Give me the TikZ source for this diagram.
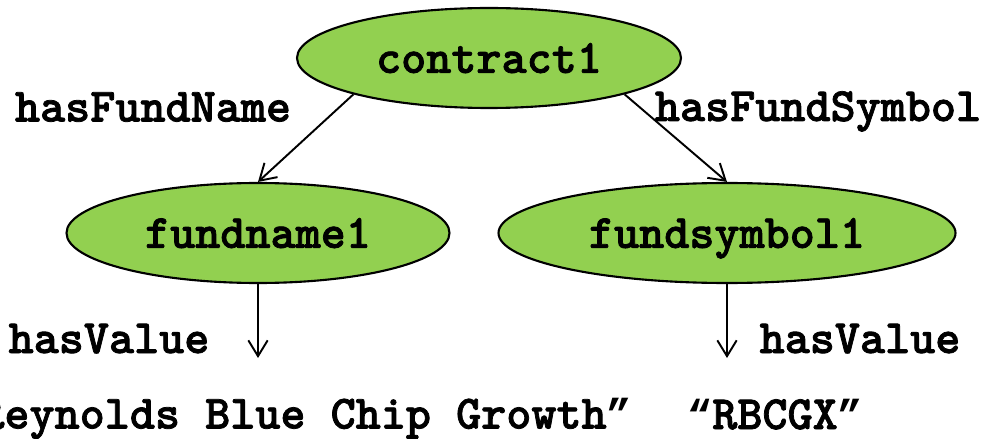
\documentclass[tikz,border=0pt]{standalone}
\usepackage{fontspec}
\newfontfamily\slabmono{lmmonolt10-bold.otf}[FakeBold=1.6]
\newfontfamily\quotemono{Liberation Mono}
\newcommand\openq{{\quotemono\bfseries\fontsize{23.8}{32}\selectfont “}}
\newcommand\closeq{{\quotemono\bfseries\fontsize{23.8}{32}\selectfont ”}}
\usepackage{tikz}
\usetikzlibrary{arrows.meta, shapes.geometric}
\pgfdeclarelayer{edgelayer}
\pgfdeclarelayer{nodelayer}
\pgfsetlayers{nodelayer,main,edgelayer}
\definecolor{leafgreen}{RGB}{146,208,80}
\tikzset{
	resource/.style={ellipse, draw, fill=leafgreen, line width=1.2pt, inner sep=0pt, minimum height=2cm, text depth=0pt},
	relation/.style={anchor=base, inner sep=0pt},
	link/.style={line width=1.1pt, -{Straight Barb[length=9pt,width=11pt,line width=1.1pt]}}
}

\begin{document}
\begin{tikzpicture}[font=\fontsize{27.2}{32}\selectfont\slabmono]
	\useasboundingbox (0, 0) rectangle (19.72, -8.78);
	\begin{pgfonlayer}{nodelayer}
		\node [resource, minimum width=7.68cm] (0) at (9.78, -1.16) {contract1};
		\node [resource, minimum width=7.66cm] (1) at (5.16, -4.66) {fundname1};
		\node [resource, minimum width=9.14cm] (2) at (14.54, -4.66) {fundsymbol1};
		\node [relation] (3) at (3.06, -2.43) {hasFundName};
		\node [relation] (4) at (16.36, -2.42) {hasFundSymbol};
		\node [relation] (5) at (2.18, -7.06) {hasValue};
		\node [relation] (6) at (17.2, -7.06) {hasValue};
		\node [relation] (7) at (5.86, -8.57) {\openq Reynolds Blue Chip Growth\closeq};
		\node [relation] (8) at (15.5, -8.58) {\openq RBCGX\closeq};
		\coordinate (9) at (5.16, -7.16);
		\coordinate (10) at (14.54, -7.16);
	\end{pgfonlayer}
	\begin{pgfonlayer}{edgelayer}
		\draw [link] (0.195) to (1.north);
		\draw [link] (0.345) to (2.north);
		\draw [link] (1.south) to (9);
		\draw [link] (2.south) to (10);
	\end{pgfonlayer}
\end{tikzpicture}
\end{document}
